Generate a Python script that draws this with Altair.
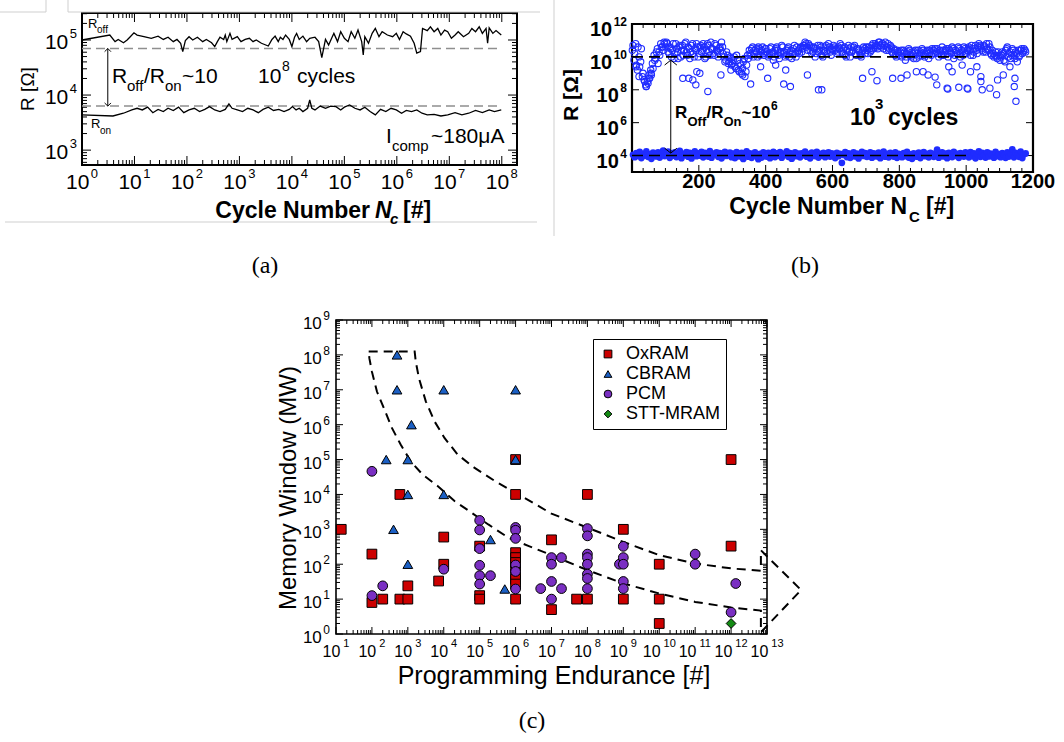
import altair as alt
import pandas as pd

FONT = "Liberation Sans"
SERIF = "Liberation Serif"

# ======================= panel (a) data =======================
a_off_logN = [0.00, 0.53, 0.63, 0.69, 0.79, 0.86, 0.92, 0.99, 1.05, 1.18,
              1.32, 1.45, 1.55, 1.64, 1.74, 1.81, 1.88, 1.92, 1.97, 2.04,
              2.11, 2.20, 2.30, 2.37, 2.47, 2.53, 2.58, 2.63, 2.70, 2.73,
              2.76, 2.82, 2.86, 2.96, 3.03, 3.11, 3.19, 3.26, 3.32, 3.42,
              3.55, 3.62, 3.68, 3.74, 3.78, 3.83, 3.88, 3.95, 4.00, 4.05,
              4.09, 4.14, 4.21, 4.28, 4.34, 4.44, 4.51, 4.57, 4.64, 4.70,
              4.77, 4.80, 4.87, 4.93, 5.00, 5.07, 5.13, 5.20, 5.26, 5.33,
              5.36, 5.39, 5.46, 5.53, 5.59, 5.66, 5.72, 5.82, 5.92, 5.99,
              6.05, 6.12, 6.18, 6.26, 6.33, 6.38, 6.45, 6.49, 6.58, 6.64,
              6.71, 6.78, 6.84, 6.91, 6.97, 7.04, 7.11, 7.17, 7.27, 7.37,
              7.43, 7.50, 7.57, 7.63, 7.70, 7.73, 7.76, 7.83, 7.89, 7.99]
a_off_logR = [5.00, 5.09, 4.97, 5.01, 4.95, 5.00, 5.06, 5.13, 5.09, 5.06,
              5.03, 5.07, 5.01, 5.05, 4.97, 5.01, 4.94, 4.79, 4.99, 5.06,
              5.00, 5.05, 4.97, 5.01, 4.95, 4.88, 4.97, 5.05, 5.01, 5.09,
              4.97, 5.12, 5.01, 5.06, 4.97, 5.01, 5.03, 4.97, 5.00, 4.94,
              4.89, 5.01, 5.07, 4.97, 5.05, 5.01, 5.09, 5.01, 4.88, 5.05,
              5.12, 5.01, 5.07, 4.97, 5.03, 5.05, 4.97, 4.68, 5.01, 4.91,
              5.06, 5.12, 4.97, 5.15, 5.03, 4.97, 5.15, 5.03, 5.18, 4.97,
              4.73, 5.06, 4.94, 5.12, 5.21, 5.06, 5.15, 5.09, 5.06, 5.12,
              5.01, 5.15, 5.11, 5.07, 4.94, 4.76, 4.79, 5.21, 5.17, 5.24,
              5.15, 5.21, 5.09, 5.18, 5.15, 5.03, 5.09, 5.15, 5.06, 5.12,
              5.21, 5.15, 5.24, 5.12, 5.21, 4.94, 5.22, 5.12, 5.17, 5.09]
a_on_logN = [0.00, 0.59, 0.79, 0.95, 1.05, 1.15, 1.25, 1.35, 1.45, 1.55,
             1.64, 1.74, 1.84, 1.94, 2.04, 2.14, 2.24, 2.34, 2.43, 2.53,
             2.63, 2.73, 2.80, 2.86, 2.96, 3.06, 3.16, 3.26, 3.36, 3.45,
             3.55, 3.65, 3.75, 3.85, 3.95, 4.01, 4.08, 4.14, 4.21, 4.30,
             4.34, 4.38, 4.44, 4.54, 4.64, 4.74, 4.84, 4.93, 5.00, 5.10,
             5.20, 5.30, 5.39, 5.49, 5.59, 5.69, 5.79, 5.89, 5.99, 6.09,
             6.18, 6.28, 6.38, 6.48, 6.58, 6.71, 6.84, 6.97, 7.11, 7.24,
             7.37, 7.50, 7.63, 7.76, 7.86, 7.99]
a_on_logR = [3.64, 3.62, 3.67, 3.73, 3.76, 3.73, 3.78, 3.68, 3.74, 3.70,
             3.76, 3.72, 3.78, 3.68, 3.73, 3.76, 3.70, 3.74, 3.79, 3.73,
             3.70, 3.74, 3.84, 3.76, 3.73, 3.70, 3.76, 3.73, 3.68, 3.74,
             3.78, 3.72, 3.74, 3.70, 3.74, 3.79, 3.73, 3.76, 3.70, 3.76,
             3.91, 3.76, 3.73, 3.80, 3.76, 3.80, 3.79, 3.73, 3.78, 3.82,
             3.76, 3.73, 3.78, 3.70, 3.64, 3.74, 3.70, 3.76, 3.73, 3.67,
             3.72, 3.70, 3.73, 3.67, 3.64, 3.65, 3.62, 3.64, 3.68, 3.64,
             3.67, 3.72, 3.68, 3.73, 3.70, 3.73]
a_levels = [7.0e4, 6.3e3]
a_arrow_N = 3.1

# ======================= panel (b) data =======================
b_band_cycle = list(range(3, 1180, 5))
b_off_band_logR = [
    10.7, 10.2, 9.5, 10.6, 9.4, 10.5, 9.0, 8.5, 8.2, 8.4, 8.7, 8.9, 9.3, 9.8, 10.3, 9.6, 10.1, 10.6, 10.4, 10.8,
    10.9, 10.3, 10.6, 10.0, 10.8, 10.2, 10.5, 9.9, 10.7, 10.4, 10.1, 10.8, 10.3, 10.6, 9.9, 10.7, 10.2, 10.5, 10.8, 10.0,
    10.6, 10.3, 10.8, 9.9, 10.4, 10.7, 10.1, 10.5, 10.2, 10.8, 10.4, 10.0, 10.6, 10.9, 10.2, 9.7, 10.3, 9.6, 10.0, 9.5,
    9.8, 9.4, 10.1, 9.2, 9.6, 9.0, 9.7, 8.8, 9.5, 9.9, 10.2, 10.5, 10.0, 10.4, 10.3, 10.6, 10.1, 10.4, 10.2, 10.5,
    10.3, 10.0, 10.5, 10.2, 9.8, 10.4, 10.6, 10.1, 10.3, 10.7, 10.2, 10.0, 10.4, 10.6, 10.3, 9.9, 10.5, 10.2, 10.6, 10.4,
    10.5, 10.3, 10.7, 10.9, 10.6, 10.8, 10.4, 10.2, 10.6, 10.0, 10.5, 10.3, 10.7, 10.1, 10.4, 10.6, 10.2, 10.8, 10.3, 10.5,
    10.7, 10.4, 10.2, 10.6, 10.8, 10.3, 10.5, 10.1, 10.4, 10.7, 10.0, 10.3, 10.6, 10.2, 10.5, 10.4, 10.1, 10.3, 10.6, 10.2,
    10.4, 10.6, 10.3, 10.7, 10.5, 10.8, 10.6, 10.9, 10.7, 10.8, 10.5, 10.9, 10.6, 10.4, 10.7, 10.3, 10.5, 10.1, 10.4, 10.2,
    10.3, 10.0, 10.4, 9.8, 10.2, 10.5, 10.1, 10.3, 9.9, 10.4, 10.2, 10.0, 10.3, 10.5, 10.1, 10.2, 10.4, 9.9, 10.3, 10.5,
    10.4, 10.2, 10.5, 10.0, 10.3, 10.6, 10.1, 10.4, 10.2, 10.5, 10.3, 10.6, 9.9, 10.4, 10.2, 10.5, 10.0, 10.3, 10.6, 10.2,
    10.4, 10.6, 10.1, 10.5, 10.3, 10.7, 10.2, 10.8, 10.6, 10.4, 10.7, 10.3, 10.5, 10.8, 10.2, 10.4, 10.0, 10.3, 9.9, 10.1,
    10.0, 10.3, 9.8, 10.4, 10.6, 10.2, 9.9, 10.5, 10.1, 10.3, 9.7, 10.0, 10.4, 10.2, 10.5, 10.3]
b_band2_cycle = list(range(1, 1180, 5))
b_off_band2_logR = [
    10.4, 9.8, 10.8, 9.2, 10.0, 9.7, 8.8, 8.6, 8.3, 8.5, 8.9, 9.2, 9.6, 10.1, 9.9, 10.5, 10.3, 10.8, 10.6, 10.9,
    10.6, 10.8, 10.2, 10.5, 10.4, 9.9, 10.8, 10.3, 10.6, 10.0, 10.7, 10.4, 10.9, 10.1, 10.5, 10.3, 10.8, 10.0, 10.4, 10.6,
    10.2, 10.7, 10.4, 10.6, 10.0, 10.8, 10.3, 10.9, 10.5, 10.1, 10.7, 10.3, 10.5, 10.4, 10.6, 10.0, 9.8, 10.1, 9.7, 9.9,
    9.6, 10.0, 9.3, 9.8, 9.1, 9.5, 9.3, 9.9, 9.1, 10.1, 10.4, 10.1, 10.6, 10.2, 10.5, 10.0, 10.5, 10.3, 10.6, 10.1,
    10.5, 10.2, 10.1, 10.6, 10.3, 10.0, 10.5, 10.4, 9.9, 10.2, 10.6, 10.3, 10.1, 10.5, 10.0, 10.4, 10.2, 10.7, 10.0, 10.3,
    10.2, 10.6, 10.5, 10.7, 10.8, 10.4, 10.7, 10.6, 10.3, 10.5, 10.2, 10.7, 10.4, 10.6, 10.0, 10.3, 10.7, 10.4, 10.6, 10.1,
    10.4, 10.6, 10.5, 10.3, 10.5, 10.7, 10.2, 10.6, 10.0, 10.5, 10.3, 10.6, 10.4, 10.7, 10.1, 10.5, 10.3, 10.0, 10.4, 10.5,
    10.6, 10.2, 10.5, 10.4, 10.8, 10.6, 10.7, 10.5, 10.9, 10.6, 10.8, 10.7, 10.4, 10.8, 10.5, 10.6, 10.2, 10.4, 10.0, 10.3,
    10.1, 10.4, 10.2, 10.3, 10.0, 10.3, 10.4, 10.0, 10.2, 10.3, 9.9, 10.4, 10.1, 10.2, 10.4, 10.0, 10.3, 10.2, 10.4, 10.1,
    10.2, 10.5, 10.3, 10.2, 10.4, 10.1, 10.4, 10.3, 10.5, 10.0, 10.4, 10.2, 10.5, 10.1, 10.3, 10.6, 10.2, 10.4, 10.1, 10.5,
    10.2, 10.5, 10.4, 10.7, 10.1, 10.5, 10.4, 10.6, 10.7, 10.5, 10.3, 10.6, 10.8, 10.4, 10.6, 10.1, 10.2, 10.1, 10.0, 10.3,
    9.8, 10.1, 10.2, 9.7, 10.5, 10.0, 10.3, 10.1, 10.4, 9.9, 10.2, 10.4, 10.1, 10.5, 10.3, 10.4]
b_off_out_cycle = [12, 21, 42, 51, 57, 152, 170, 182, 194, 203, 191, 227, 266, 296, 331, 355, 406, 454, 474,
                   525, 558, 568, 460, 385, 430, 690, 733, 718, 780, 805, 823, 851, 871, 886, 907, 912, 943,
                   945, 948, 958, 978, 988, 1003, 1005, 1013, 1032, 1044, 1044, 1048, 1071, 1091, 1094, 1111,
                   1146, 1144, 1149, 1131]
b_off_out_logR = [9.4, 8.8, 8.2, 8.7, 9.0, 8.7, 8.7, 8.6, 9.1, 9.0, 8.3, 7.9, 8.9, 9.2, 8.9, 8.35, 8.7, 8.35, 8.2,
                  8.9, 8.0, 8.0, 9.2, 9.4, 9.5, 8.7, 8.55, 9.1, 8.7, 8.7, 8.9, 9.1, 9.1, 8.9, 8.77, 8.3, 8.1,
                  8.05, 9.4, 9.1, 8.15, 9.5, 8.1, 8.05, 9.1, 9.4, 8.8, 8.5, 8.0, 8.1, 7.7, 8.6, 8.9,
                  8.7, 8.2, 7.3, 9.4]
b_on_logR = [
    4.05, 3.90, 4.15, 3.98, 4.22, 3.85, 4.10, 4.00, 4.25, 3.92, 4.08, 3.80, 4.18, 4.02, 3.95, 4.20, 3.88, 4.12, 4.30, 3.97,
    4.06, 4.24, 3.86, 4.14, 3.99, 4.19, 3.91, 4.08, 4.28, 3.84, 4.11, 4.03, 4.21, 3.93, 4.16, 3.82, 4.09, 4.26, 3.96, 4.13,
    4.00, 4.22, 3.89, 4.17, 4.04, 3.94, 4.27, 3.87, 4.12, 4.07, 4.20, 3.92, 4.15, 3.83, 4.10, 4.23, 3.98, 4.05, 4.18, 3.90,
    4.12, 3.85, 4.21, 4.02, 3.95, 4.16, 3.79, 4.09, 4.25, 3.93, 4.14, 3.86, 4.06, 4.19, 3.97, 3.78, 4.11, 3.88, 4.20, 4.03,
    3.94, 4.17, 3.84, 4.08, 4.23, 3.91, 4.13, 3.99, 4.21, 3.87, 4.10, 4.04, 4.26, 3.92, 4.15, 3.81, 4.07, 4.19, 3.96, 4.12,
    3.89, 4.14, 4.02, 4.24, 3.93, 4.09, 3.83, 4.18, 4.05, 3.97, 4.22, 3.88, 4.11, 4.00, 4.16, 3.90, 4.06, 4.20, 3.94, 4.13,
    4.01, 3.85, 4.17, 3.96, 4.10, 3.56, 4.04, 4.21, 3.91, 4.14, 3.86, 4.08, 4.19, 3.95, 4.12, 3.82, 4.06, 4.23, 3.98, 4.15,
    3.92, 4.09, 4.20, 3.87, 4.13, 4.02, 3.95, 4.18, 3.84, 4.07, 4.24, 3.93, 4.11, 3.89, 4.16, 4.00, 3.94, 4.19, 3.86, 4.10,
    4.03, 3.90, 4.15, 3.97, 4.22, 3.88, 4.08, 3.80, 4.13, 4.01, 3.93, 4.18, 3.85, 4.06, 4.21, 3.96, 4.11, 3.89, 4.16, 4.04,
    3.92, 4.14, 4.36, 3.87, 4.09, 4.20, 3.95, 4.12, 3.84, 4.17, 4.05, 3.91, 4.23, 3.98, 4.10, 3.86, 4.15, 4.02, 3.94, 4.19,
    4.07, 3.89, 4.21, 3.96, 4.13, 3.83, 4.10, 4.25, 3.92, 4.16, 4.01, 3.88, 4.19, 3.95, 4.12, 4.04, 3.87, 4.22, 3.97, 4.09,
    3.90, 4.15, 4.03, 3.86, 4.20, 3.94, 4.11, 4.38, 3.89, 4.17, 4.00, 3.92, 4.24, 3.85, 4.08, 4.13]
b_levels = [1e10, 1e4]
b_level_end = 1000
b_arrow_cycle = 116
b_arrow_top = 10 ** 9.8
b_arrow_bottom = 10 ** 4.15

# ======================= panel (c) data =======================
c_categories = ["OxRAM", "CBRAM", "PCM", "STT-MRAM"]
c_colors = ["#cc0000", "#1b5fc4", "#7a2fc2", "#138a13"]
c_shapes = ["square", "triangle-up", "circle", "diamond"]
c_ox_x = [14, 100, 100, 200, 600, 600, 1000, 1000, 7200, 1e4, 1e4, 1e5, 1e5, 1e5,
          1e6, 1e6, 1e6, 1e6, 1e6, 1e6, 1e6, 1e6, 1e6, 1e6, 1e7, 1e7, 5e7, 1e8, 1e8,
          1e9, 1e9, 1e10, 1e10, 1e10, 1e12, 1e12]
c_ox_y = [1000, 195, 8, 10, 1e4, 10, 10, 24, 33, 600, 100, 12.6, 10, 330,
          10, 1e4, 1e5, 215, 155, 112, 80, 51, 37, 27, 500, 5, 10, 10, 1e4,
          1000, 10, 100, 10, 2, 1e5, 330]
c_cb_x = [500, 500, 250, 400, 1000, 1000, 1260, 1000, 1e4, 1e4, 2e5, 5e5, 1e6, 1e6]
c_cb_y = [1e8, 1e7, 1e5, 1000, 1e5, 1e4, 1e6, 100, 1e7, 1e4, 510, 19.5, 1e7, 1e5]
c_pcm_x = [100, 100, 200, 1e4, 1e5, 1e5, 1e5, 1e5, 1e5, 1e5, 2e5, 1e6, 1e6, 1e6, 1e6, 1e6, 1e6,
           5e6, 1e7, 1e7, 1e7, 1e7, 1.9e7, 1.9e7, 1e8, 1e8, 1e8, 1e8, 1e8, 1e8, 1e8, 1e8,
           7.8e8, 1e9, 1e9, 1e9, 1e9, 1e9, 1e11, 1e11, 1.35e12, 1e12]
c_pcm_y = [4.6e4, 12.6, 24, 72, 1800, 960, 280, 93, 47, 27, 47, 1130, 940, 550, 95, 62, 19.5,
           20, 155, 100, 32, 10, 155, 20, 1050, 650, 195, 155, 100, 52, 39, 20,
           100, 325, 155, 100, 32, 20, 195, 100, 28, 4.2]
c_stt_x = [1e12]
c_stt_y = [2]
# dashed envelope (log10 endurance, log10 memory window), drawn in order
c_env_logx = [1.91, 3.19, 3.22, 3.31, 3.50, 3.74, 4.02, 4.39, 4.86, 5.43, 5.99, 6.50, 7.0, 8.0, 9.0,
              10.0, 11.0, 12.0, 12.83, 12.83, 13.95, 12.83, 12.83, 12.0, 11.0, 10.0, 9.0, 8.0, 7.0,
              6.37, 5.80, 5.24, 4.77, 4.30, 3.83, 3.41, 3.08, 2.80, 2.56, 2.33, 2.14, 2.00, 1.93, 1.91]
c_env_logy = [8.10, 8.10, 7.81, 7.33, 6.67, 6.10, 5.62, 5.14, 4.76, 4.38, 4.05, 3.75, 3.45, 3.05, 2.64,
              2.26, 2.02, 1.88, 1.81, 2.40, 1.26, 0.05, 0.67, 0.76, 0.92, 1.16, 1.45, 1.83, 2.26,
              2.52, 2.76, 3.14, 3.48, 3.81, 4.24, 4.57, 4.95, 5.43, 5.90, 6.48, 6.95, 7.52, 7.90, 8.10]

# ======================= geometry =======================
GA = dict(L=82, R=517, T=13, B=165)
GB = dict(L=632, R=1033, T=24, B=172)
GC = dict(L=336, R=767, T=320, B=634)


def lscale(lo, hi, r0, r1):
    return alt.Scale(type="log", domain=[10 ** lo, 10 ** hi], range=[r0, r1], nice=False)


XA = lscale(0, 8.29, GA["L"], GA["R"])
YA = lscale(2.73, 5.49, GA["B"], GA["T"])
XB = alt.Scale(type="linear", domain=[0, 1200], range=[GB["L"], GB["R"]], nice=False, zero=False)
YB = lscale(3, 12, GB["B"], GB["T"])
XC = lscale(1, 13, GC["L"], GC["R"])
YC = lscale(0, 9, GC["B"], GC["T"])

ONE = pd.DataFrame({"k": [0]})


def txt(s, x, y, size, weight="normal", style="normal", font=FONT, align="left",
        baseline="alphabetic", angle=0, color="black"):
    return alt.Chart(ONE).mark_text(text=s, font=font, fontSize=size, fontWeight=weight,
                                    fontStyle=style, align=align, baseline=baseline,
                                    angle=angle, color=color).encode(x=alt.value(x), y=alt.value(y))


def xticks(vals, xs, y0, y1, sw=1.0):
    return alt.Chart(pd.DataFrame({"v": vals})).mark_rule(color="black", strokeWidth=sw).encode(
        x=alt.X("v:Q", scale=xs, axis=None), y=alt.value(y0), y2=alt.value(y1))


def yticks(vals, ys, x0, x1, sw=1.0):
    return alt.Chart(pd.DataFrame({"v": vals})).mark_rule(color="black", strokeWidth=sw).encode(
        y=alt.Y("v:Q", scale=ys, axis=None), x=alt.value(x0), x2=alt.value(x1))


def xlabels(vals, labels, xs, y, size, weight="normal"):
    return alt.Chart(pd.DataFrame({"v": vals, "t": labels})).mark_text(
        font=FONT, fontSize=size, fontWeight=weight, align="center", baseline="alphabetic",
        color="black").encode(x=alt.X("v:Q", scale=xs, axis=None), y=alt.value(y), text="t:N")


def pow_xlabels(exps, xs, y, size, sup, rise, weight="normal", gap=1.5):
    out = []
    wb = 1.112 * size
    for nd in (1, 2):
        es = [e for e in exps if len(str(e)) == nd]
        if not es:
            continue
        k = (wb - 0.556 * sup * nd) / 2
        df = pd.DataFrame({"v": [10.0 ** e for e in es], "b": ["10"] * len(es), "s": [str(e) for e in es]})
        out.append(alt.Chart(df).mark_text(font=FONT, fontSize=size, fontWeight=weight, align="right",
                                           baseline="alphabetic", dx=k - gap / 2, color="black").encode(
            x=alt.X("v:Q", scale=xs, axis=None), y=alt.value(y), text="b:N"))
        out.append(alt.Chart(df).mark_text(font=FONT, fontSize=sup, fontWeight=weight, align="left",
                                           baseline="alphabetic", dx=k + gap / 2, dy=-rise,
                                           color="black").encode(
            x=alt.X("v:Q", scale=xs, axis=None), y=alt.value(y), text="s:N"))
    return out


def pow_ylabels(exps, ys, xr, size, sup, rise, dy, weight="normal"):
    out = []
    for nd in (1, 2):
        es = [e for e in exps if len(str(e)) == nd]
        if not es:
            continue
        ws = 0.556 * sup * nd + 1.5
        df = pd.DataFrame({"v": [10.0 ** e for e in es], "b": ["10"] * len(es), "s": [str(e) for e in es]})
        out.append(alt.Chart(df).mark_text(font=FONT, fontSize=size, fontWeight=weight, align="right",
                                           baseline="alphabetic", dx=-ws, dy=dy, color="black").encode(
            y=alt.Y("v:Q", scale=ys, axis=None), x=alt.value(xr), text="b:N"))
        out.append(alt.Chart(df).mark_text(font=FONT, fontSize=sup, fontWeight=weight, align="right",
                                           baseline="alphabetic", dy=dy - rise, color="black").encode(
            y=alt.Y("v:Q", scale=ys, axis=None), x=alt.value(xr), text="s:N"))
    return out


def frame(xs, ys, xd, yd, sw):
    df = pd.DataFrame({"x": [xd[0]], "x2": [xd[1]], "y": [yd[0]], "y2": [yd[1]]})
    return alt.Chart(df).mark_rect(fill="transparent", stroke="black", strokeWidth=sw).encode(
        x=alt.X("x:Q", scale=xs, axis=None), x2="x2:Q",
        y=alt.Y("y:Q", scale=ys, axis=None), y2="y2:Q")


def log_ticks(lo, hi):
    major = [10.0 ** e for e in range(-2, 16) if 10 ** lo <= 10.0 ** e <= 10 ** hi * 1.0001]
    minor = [m * 10.0 ** e for e in range(-2, 16) for m in range(2, 10)
             if 10 ** lo < m * 10.0 ** e < 10 ** hi]
    return major, minor


UP = "M-1,1L0,0L1,1"
DOWN = "M-1,-1L0,0L1,-1"

# ======================= panel (a) =======================
a_curves = pd.DataFrame(
    [{"N": 10 ** n, "R": 10 ** r, "s": "off"} for n, r in zip(a_off_logN, a_off_logR)] +
    [{"N": 10 ** n, "R": 10 ** r, "s": "on"} for n, r in zip(a_on_logN, a_on_logR)])
a_lev = pd.DataFrame({"x1": [1.0] * len(a_levels), "x2": [1e8] * len(a_levels), "y": a_levels})
a_arrow = pd.DataFrame({"x": [a_arrow_N], "y": [a_levels[0]], "y2": [a_levels[1]]})

ax_maj, ax_min = log_ticks(0, 8.29)
ay_maj, ay_min = log_ticks(2.73, 5.49)

panel_a = alt.layer(
    frame(XA, YA, (1, 10 ** 8.29), (10 ** 2.73, 10 ** 5.49), 2),
    xticks(ax_maj, XA, GA["B"], GA["B"] - 9), xticks(ax_min, XA, GA["B"], GA["B"] - 5),
    xticks(ax_maj, XA, GA["T"], GA["T"] + 9), xticks(ax_min, XA, GA["T"], GA["T"] + 5),
    yticks(ay_maj, YA, GA["L"], GA["L"] + 9), yticks(ay_min, YA, GA["L"], GA["L"] + 5),
    yticks(ay_maj, YA, GA["R"], GA["R"] - 9), yticks(ay_min, YA, GA["R"], GA["R"] - 5),
    alt.Chart(a_lev).mark_rule(color="#8f8f8f", strokeWidth=1.5, strokeDash=[9, 5]).encode(
        x=alt.X("x1:Q", scale=XA, axis=None), x2="x2:Q", y=alt.Y("y:Q", scale=YA, axis=None)),
    alt.Chart(a_curves).mark_line(color="black", strokeWidth=1.3).encode(
        x=alt.X("N:Q", scale=XA, axis=None), y=alt.Y("R:Q", scale=YA, axis=None), detail="s:N"),
    alt.Chart(a_arrow).mark_rule(color="black", strokeWidth=1).encode(
        x=alt.X("x:Q", scale=XA, axis=None), y=alt.Y("y:Q", scale=YA, axis=None), y2="y2:Q"),
    alt.Chart(a_arrow).mark_point(shape=UP, filled=False, size=40, color="black", strokeWidth=1,
                                  opacity=1).encode(
        x=alt.X("x:Q", scale=XA, axis=None), y=alt.Y("y:Q", scale=YA, axis=None)),
    alt.Chart(a_arrow).mark_point(shape=DOWN, filled=False, size=40, color="black", strokeWidth=1,
                                  opacity=1).encode(
        x=alt.X("x:Q", scale=XA, axis=None), y=alt.Y("y2:Q", scale=YA, axis=None)),
    *pow_xlabels(list(range(0, 9)), XA, 189, 21, 13, 11),
    *pow_ylabels([3, 4, 5], YA, 77, 21, 13, 11, dy=9),
)

# ======================= panel (b) =======================
b_off = pd.DataFrame(
    [{"c": c, "R": 10 ** r} for c, r in zip(b_band_cycle, b_off_band_logR)] +
    [{"c": c, "R": 10 ** r} for c, r in zip(b_band2_cycle, b_off_band2_logR)] +
    [{"c": c, "R": 10 ** r} for c, r in zip(b_off_out_cycle, b_off_out_logR)])
b_on = pd.DataFrame([{"c": c, "R": 10 ** r} for c, r in zip(b_band_cycle, b_on_logR)])
b_lev = pd.DataFrame({"x1": [0] * len(b_levels), "x2": [b_level_end] * len(b_levels), "y": b_levels})
b_arrow = pd.DataFrame({"x": [b_arrow_cycle], "y": [b_arrow_top], "y2": [b_arrow_bottom]})
BLUE = "#1f2cff"

bx_maj = list(range(0, 1201, 200))
bx_min = [k * 200 / 6 for k in range(1, 36) if k % 6]
by_maj = [10.0 ** e for e in range(4, 13, 2)]

panel_b = alt.layer(
    frame(XB, YB, (0, 1200), (1e3, 1e12), 2.2),
    xticks(bx_maj, XB, GB["B"], GB["B"] - 7), xticks(bx_min, XB, GB["B"], GB["B"] - 4),
    xticks(bx_maj, XB, GB["T"], GB["T"] + 7), xticks(bx_min, XB, GB["T"], GB["T"] + 4),
    yticks(by_maj, YB, GB["L"], GB["L"] + 7), yticks(by_maj, YB, GB["R"], GB["R"] - 7),
    alt.Chart(b_off).mark_point(shape="circle", filled=False, size=40, color=BLUE,
                                strokeWidth=1.1, opacity=1).encode(
        x=alt.X("c:Q", scale=XB, axis=None), y=alt.Y("R:Q", scale=YB, axis=None)),
    alt.Chart(b_on).mark_circle(size=45, color=BLUE, opacity=1).encode(
        x=alt.X("c:Q", scale=XB, axis=None), y=alt.Y("R:Q", scale=YB, axis=None)),
    alt.Chart(b_lev).mark_rule(color="black", strokeWidth=1.6, strokeDash=[11, 6]).encode(
        x=alt.X("x1:Q", scale=XB, axis=None), x2="x2:Q", y=alt.Y("y:Q", scale=YB, axis=None)),
    alt.Chart(b_arrow).mark_rule(color="black", strokeWidth=1).encode(
        x=alt.X("x:Q", scale=XB, axis=None), y=alt.Y("y:Q", scale=YB, axis=None), y2="y2:Q"),
    alt.Chart(b_arrow).mark_point(shape="M-1,0.8L0,0L1,0.8", filled=False, size=150, color="black",
                                  strokeWidth=1, opacity=1).encode(
        x=alt.X("x:Q", scale=XB, axis=None), y=alt.Y("y:Q", scale=YB, axis=None)),
    alt.Chart(b_arrow).mark_point(shape="M-1,-0.8L0,0L1,-0.8", filled=False, size=150, color="black",
                                  strokeWidth=1, opacity=1).encode(
        x=alt.X("x:Q", scale=XB, axis=None), y=alt.Y("y2:Q", scale=YB, axis=None)),
    xlabels(bx_maj[1:], [str(v) for v in bx_maj[1:]], XB, 188, 20, "bold"),
    *pow_ylabels([4, 6, 8, 10, 12], YB, 627, 20, 12, 10, dy=12, weight="bold"),
)

# ======================= panel (c) =======================
c_pts = pd.DataFrame(
    [{"x": x, "y": y, "cat": "OxRAM"} for x, y in zip(c_ox_x, c_ox_y)] +
    [{"x": x, "y": y, "cat": "CBRAM"} for x, y in zip(c_cb_x, c_cb_y)] +
    [{"x": x, "y": y, "cat": "PCM"} for x, y in zip(c_pcm_x, c_pcm_y)] +
    [{"x": x, "y": y, "cat": "STT-MRAM"} for x, y in zip(c_stt_x, c_stt_y)])
c_env = pd.DataFrame([{"x": 10 ** a, "y": 10 ** b, "i": i}
                      for i, (a, b) in enumerate(zip(c_env_logx, c_env_logy))])

LEG = alt.Legend(title=None, orient="none", legendX=593, legendY=339, direction="vertical",
                 strokeColor="black", fillColor="white", padding=6,
                 labelFont=FONT, labelFontSize=18, labelColor="black", symbolSize=60,
                 symbolStrokeColor="black", symbolStrokeWidth=1, rowPadding=2, labelOffset=9)

cx_maj, cx_min = log_ticks(1, 13)
cy_maj, cy_min = log_ticks(0, 9)

panel_c = alt.layer(
    frame(XC, YC, (10, 1e13), (1, 1e9), 1.6),
    xticks(cx_maj, XC, GC["B"], GC["B"] - 7), xticks(cx_min, XC, GC["B"], GC["B"] - 4),
    xticks(cx_maj, XC, GC["T"], GC["T"] + 7), xticks(cx_min, XC, GC["T"], GC["T"] + 4),
    yticks(cy_maj, YC, GC["L"], GC["L"] + 7), yticks(cy_min, YC, GC["L"], GC["L"] + 4),
    yticks(cy_maj, YC, GC["R"], GC["R"] - 7), yticks(cy_min, YC, GC["R"], GC["R"] - 4),
    alt.Chart(c_env).mark_line(color="black", strokeWidth=2, strokeDash=[9, 6]).encode(
        x=alt.X("x:Q", scale=XC, axis=None), y=alt.Y("y:Q", scale=YC, axis=None), order="i:Q"),
    alt.Chart(c_pts).mark_point(filled=True, size=95, stroke="black", strokeWidth=1, opacity=1).encode(
        x=alt.X("x:Q", scale=XC, axis=None), y=alt.Y("y:Q", scale=YC, axis=None),
        color=alt.Color("cat:N", scale=alt.Scale(domain=c_categories, range=c_colors), legend=LEG),
        shape=alt.Shape("cat:N", scale=alt.Scale(domain=c_categories, range=c_shapes), legend=LEG)),
    *pow_xlabels(list(range(1, 14)), XC, 657, 16, 11, 10, gap=3),
    *pow_ylabels(list(range(0, 10)), YC, 330, 17, 12, 9, dy=9),
)

# ======================= free text =======================
GRAY = "#cfcfcf"


def hline(x0, x1, y):
    return alt.Chart(ONE).mark_rule(color=GRAY, strokeWidth=1).encode(
        x=alt.value(x0), x2=alt.value(x1), y=alt.value(y))


def vline(x, y0, y1):
    return alt.Chart(ONE).mark_rule(color=GRAY, strokeWidth=1).encode(
        x=alt.value(x), y=alt.value(y0), y2=alt.value(y1))


texts = [
    hline(0, 46, 12), vline(46, 0, 12), vline(68, 0, 12), hline(68, 540, 12),
    hline(5, 537, 222), vline(554, 0, 236),
    # panel (a)
    txt("R", 88, 28, 13), txt("off", 97, 33, 10),
    txt("R", 91, 128, 13), txt("on", 100, 134, 10),
    txt("R", 112, 83, 21), txt("off", 127, 91, 15), txt("/R", 144, 83, 21),
    txt("on", 165, 91, 15), txt("~10", 182, 83, 21),
    txt("10", 258, 83, 21), txt("8", 282, 71, 14), txt("cycles", 297, 83, 21),
    txt("I", 386, 143, 21), txt("comp", 392, 151, 15), txt("~180μA", 431, 143, 21),
    txt("Cycle Number", 370, 218, 23, "bold", align="right"),
    txt("N", 375, 218, 23, "bold", "italic"), txt("c", 390, 224, 15, "bold", "italic"),
    txt("[#]", 403, 218, 23, "bold"),
    txt("R [Ω]", 28, 89, 19, align="center", baseline="middle", angle=270),
    txt("(a)", 265, 273, 24, font=SERIF, align="center"),
    # panel (b)
    txt("R", 675, 118, 17, "bold"), txt("Off", 687.5, 126, 13, "bold"),
    txt("/R", 706.5, 118, 17, "bold"), txt("On", 723.5, 126, 13, "bold"),
    txt("~10", 741.5, 118, 17, "bold"), txt("6", 771, 110, 12, "bold"),
    txt("10", 850, 125, 23, "bold"), txt("3", 875, 109, 15, "bold"),
    txt("cycles", 888, 125, 23, "bold"),
    txt("Cycle Number N", 907, 214, 23, "bold", align="right"),
    txt("C", 909, 222, 15, "bold"), txt("[#]", 926, 214, 23, "bold"),
    txt("R [Ω]", 572, 95, 21, "bold", align="center", baseline="middle", angle=270),
    txt("(b)", 805, 273, 24, font=SERIF, align="center"),
    # panel (c)
    txt("Memory Window (MW)", 289, 488, 24, align="center", baseline="middle", angle=270),
    txt("Programming Endurance [#]", 554, 684, 25, align="center"),
    txt("(c)", 532, 728, 24, font=SERIF, align="center"),
]

chart = alt.layer(panel_a, panel_b, panel_c, *texts).resolve_scale(
    x="independent", y="independent"
).properties(
    width=1064, height=742,
    autosize=alt.AutoSizeParams(type="none"),
    padding=0,
    background="white",
).configure_view(strokeWidth=0).configure_legend(strokeWidth=1)

chart.save("out.html", embed_options={"renderer": "svg", "actions": False})
